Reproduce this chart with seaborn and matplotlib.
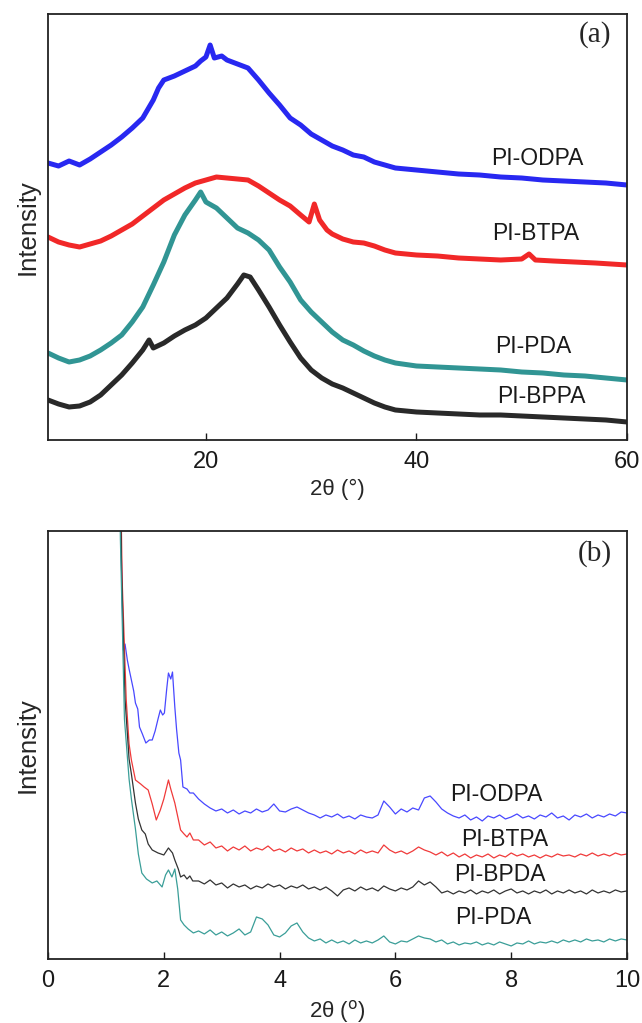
import numpy as np
import pandas as pd
import matplotlib
matplotlib.use("Agg")
import matplotlib.pyplot as plt
import seaborn as sns

# ---- panel (a): wide-angle XRD, intensity in arbitrary units (offset curves)
odpa_a_x = [5, 6, 7, 8, 9, 10, 11, 12, 13, 14, 15, 15.5, 16, 17, 18, 19, 19.5, 20, 20.4, 20.8,
            21.5, 22, 23, 24, 25, 26, 27, 28, 29, 30, 31, 32, 33, 34, 35, 36, 37, 38, 40, 42,
            44, 46, 48, 50, 52, 54, 56, 58, 60]
odpa_a_y = [277, 274, 279, 275, 281, 288, 295, 303, 312, 322, 340, 352, 360, 364, 369, 374, 379, 383, 395, 382,
            384, 380, 376, 372, 360, 347, 335, 322, 315, 306, 300, 294, 290, 285, 283, 278, 275, 272, 270, 268,
            266, 265, 263, 262, 260, 259, 258, 257, 255]

btpa_a_x = [5, 6, 7, 8, 9, 10, 11, 12, 13, 14, 15, 16, 17, 18, 19, 20, 21, 22, 23, 24,
            25, 26, 27, 28, 29, 29.8, 30.3, 30.8, 31.5, 32, 33, 34, 35, 36, 37, 38, 40, 42, 44, 46,
            48, 50, 50.7, 51.3, 53, 55, 57, 60]
btpa_a_y = [203, 198, 195, 193, 196, 199, 204, 210, 216, 224, 232, 240, 246, 252, 257, 260, 263, 262, 261, 260,
            254, 247, 240, 234, 225, 218, 236, 220, 210, 206, 201, 198, 197, 194, 190, 187, 185, 184, 182, 181,
            180, 181, 186, 180, 179, 178, 177, 175]

pda_a_x = [5, 6, 7, 8, 9, 10, 11, 12, 13, 14, 15, 16, 17, 18, 19, 19.5, 20, 21, 22, 23,
           24, 25, 26, 27, 28, 29, 30, 31, 32, 33, 34, 35, 36, 37, 38, 40, 42, 44, 46, 48,
           50, 52, 54, 56, 58, 60]
pda_a_y = [87, 82, 78, 80, 84, 90, 97, 105, 118, 133, 155, 178, 205, 225, 240, 248, 238, 232, 222, 212,
           207, 200, 190, 173, 158, 140, 128, 118, 108, 100, 95, 89, 84, 80, 77, 74, 73, 72, 71, 70,
           68, 67, 65, 64, 62, 60]

bppa_a_x = [5, 6, 7, 8, 9, 10, 11, 12, 13, 14, 14.6, 15, 16, 17, 18, 19, 20, 21, 22, 23,
            23.6, 24.2, 25, 26, 27, 28, 29, 30, 31, 32, 33, 34, 35, 36, 37, 38, 40, 42, 44, 46,
            48, 50, 52, 54, 56, 58, 60]
bppa_a_y = [40, 36, 33, 34, 38, 45, 55, 65, 77, 90, 100, 92, 97, 104, 110, 115, 122, 132, 142, 156,
            165, 163, 150, 133, 115, 98, 82, 70, 62, 56, 52, 47, 42, 37, 33, 30, 28, 27, 26, 25,
            25, 24, 23, 22, 21, 20, 18]

# ---- panel (b): small-angle XRD, steep low-angle part + read-off tail on a 0.1 deg grid
tail_x = list(np.round(np.arange(2.6, 10.01, 0.1), 2))

odpa_b_head_x = [1.22, 1.26, 1.30, 1.33, 1.37, 1.40, 1.44, 1.48, 1.51, 1.55, 1.58, 1.63, 1.69, 1.75, 1.80,
                 1.85, 1.90, 1.94, 1.98, 2.01, 2.05, 2.08, 2.12, 2.15, 2.19, 2.22, 2.26, 2.29, 2.33, 2.40,
                 2.45, 2.51]
odpa_b_head_y = [700, 420, 309, 315, 299, 290, 279, 268, 256, 250, 232, 225, 216, 219, 219,
                 228, 240, 249, 244, 246, 270, 286, 280, 287, 252, 230, 206, 199, 172, 170,
                 166, 166]
odpa_b_tail = [160, 155, 151, 148, 150, 146, 149, 145, 148, 146,
               150, 147, 149, 155, 148, 147, 150, 152, 149, 146,
               144, 141, 144, 142, 145, 141, 143, 140, 144, 142,
               141, 144, 158, 152, 145, 150, 147, 151, 149, 161,
               163, 157, 150, 146, 143, 141, 144, 139, 142, 138,
               143, 141, 144, 140, 142, 145, 141, 143, 140, 144,
               142, 146, 141, 143, 139, 144, 142, 145, 141, 144,
               142, 145, 143, 147, 146]

btpa_b_head_x = [1.2, 1.28, 1.35, 1.40, 1.44, 1.51, 1.6, 1.66, 1.73, 1.80, 1.87, 1.94, 2.0, 2.08, 2.12,
                 2.19, 2.29, 2.35, 2.4, 2.45, 2.51]
btpa_b_head_y = [700, 380, 260, 215, 199, 179, 175, 172, 169, 155, 139, 149, 160, 179, 170,
                 156, 129, 125, 122, 126, 119]
btpa_b_tail = [119, 114, 117, 111, 113, 108, 112, 109, 113, 108,
               111, 109, 113, 108, 110, 107, 111, 108, 110, 106,
               109, 106, 108, 105, 109, 106, 108, 105, 109, 106,
               108, 106, 114, 109, 106, 108, 105, 108, 112, 109,
               107, 104, 107, 103, 106, 102, 105, 101, 104, 102,
               105, 101, 104, 102, 106, 103, 105, 102, 104, 101,
               104, 102, 105, 103, 104, 102, 105, 103, 106, 103,
               105, 103, 106, 104, 105]

bpda_b_head_x = [1.2, 1.27, 1.33, 1.40, 1.44, 1.51, 1.56, 1.62, 1.68, 1.73, 1.80, 1.9, 2.0, 2.08, 2.15,
                 2.19, 2.25, 2.29, 2.35, 2.4, 2.45, 2.5]
bpda_b_head_y = [700, 390, 260, 200, 185, 156, 140, 129, 125, 115, 109, 106, 104, 111, 106,
                 99, 90, 82, 84, 80, 83, 78]
bpda_b_tail = [78, 75, 79, 74, 76, 71, 75, 72, 74, 70,
               73, 71, 75, 72, 74, 70, 73, 71, 74, 70,
               72, 69, 72, 68, 63, 69, 71, 68, 72, 69,
               71, 68, 73, 70, 68, 71, 69, 72, 78, 74,
               77, 72, 66, 68, 65, 68, 66, 69, 65, 68,
               66, 69, 65, 68, 70, 66, 68, 65, 68, 66,
               69, 65, 68, 66, 69, 66, 68, 65, 69, 66,
               68, 66, 69, 67, 68]

pda_b_head_x = [1.19, 1.25, 1.32, 1.40, 1.44, 1.51, 1.56, 1.62, 1.70, 1.80, 1.88, 1.97, 2.03, 2.08, 2.14,
                2.19, 2.24, 2.29, 2.35, 2.42, 2.51]
pda_b_head_y = [700, 420, 240, 180, 160, 130, 105, 86, 80, 76, 78, 72, 84, 89, 82,
                90, 70, 39, 34, 30, 26]
pda_b_tail = [28, 25, 29, 24, 27, 23, 26, 30, 24, 27,
              42, 40, 34, 24, 22, 26, 33, 36, 27, 21,
              18, 20, 16, 19, 16, 18, 15, 19, 16, 18,
              16, 19, 23, 17, 15, 18, 17, 20, 23, 21,
              20, 17, 19, 15, 17, 14, 16, 15, 17, 14,
              16, 14, 17, 15, 13, 16, 15, 18, 15, 17,
              16, 18, 16, 19, 17, 19, 17, 20, 18, 19,
              17, 20, 18, 20, 19]

sns.set_style("ticks")
plt.rcParams['font.family'] = ['Liberation Sans', 'DejaVu Sans']

fig = plt.figure(figsize=(6.42, 10.23), dpi=100)
ax1 = fig.add_axes([0.0748, 0.5699, 0.9018, 0.4164])
ax2 = fig.add_axes([0.0748, 0.0626, 0.9018, 0.4183])

LABEL_FS = 16.5

top_series = [
    (odpa_a_x, odpa_a_y, '#1010f0', 'PI-ODPA', 51.45, 282),
    (btpa_a_x, btpa_a_y, '#f01010', 'PI-BTPA', 51.36, 207),
    (pda_a_x, pda_a_y, '#1a8a88', 'PI-PDA', 51.07, 93),
    (bppa_a_x, bppa_a_y, '#111111', 'PI-BPPA', 51.83, 43),
]
for xs, ys, c, lab, tx, ty in top_series:
    sns.lineplot(x=xs, y=ys, ax=ax1, color=c, lw=3.6, alpha=0.9, estimator=None, sort=False)
    ax1.text(tx, ty, lab, ha='center', va='center', fontsize=LABEL_FS, color='#1a1a1a')

bot_series = [
    (odpa_b_head_x + tail_x, odpa_b_head_y + odpa_b_tail, '#4848ff', 'PI-ODPA', 7.75, 164),
    (btpa_b_head_x + tail_x, btpa_b_head_y + btpa_b_tail, '#f03a3a', 'PI-BTPA', 7.88, 119),
    (bpda_b_head_x + tail_x, bpda_b_head_y + bpda_b_tail, '#333333', 'PI-BPDA', 7.80, 84),
    (pda_b_head_x + tail_x, pda_b_head_y + pda_b_tail, '#3a9e98', 'PI-PDA', 7.69, 41),
]
for xs, ys, c, lab, tx, ty in bot_series:
    sns.lineplot(x=xs, y=ys, ax=ax2, color=c, lw=0.9, estimator=None, sort=False)
    ax2.text(tx, ty, lab, ha='center', va='center', fontsize=LABEL_FS, color='#1a1a1a')

ax1.set_xlim(5, 60)
ax1.set_ylim(0, 426)
ax1.set_xticks([20, 40, 60])
ax1.set_xlabel('2θ (°)', fontsize=16, labelpad=4)
ax1.text(57.0, 405, '(a)', ha='center', va='center', fontsize=21,
         family=['Liberation Serif'])

ax2.set_xlim(0, 10)
ax2.set_ylim(0, 428)
ax2.set_xticks([0, 2, 4, 6, 8, 10])
ax2.set_xlabel('2θ ($^{\\rm o}$)', fontsize=16, labelpad=4)
ax2.text(9.45, 406, '(b)', ha='center', va='center', fontsize=21,
         family=['Liberation Serif'])

for ax in (ax1, ax2):
    ax.set_yticks([])
    ax.set_ylabel('Intensity', fontsize=18.5, labelpad=6)
    ax.tick_params(axis='x', direction='in', length=5, width=1.0, labelsize=17,
                   pad=8, colors='#1a1a1a')
    for s in ax.spines.values():
        s.set_visible(True)
        s.set_linewidth(1.3)
        s.set_color('#222222')

fig.savefig('out.png', dpi=100)
